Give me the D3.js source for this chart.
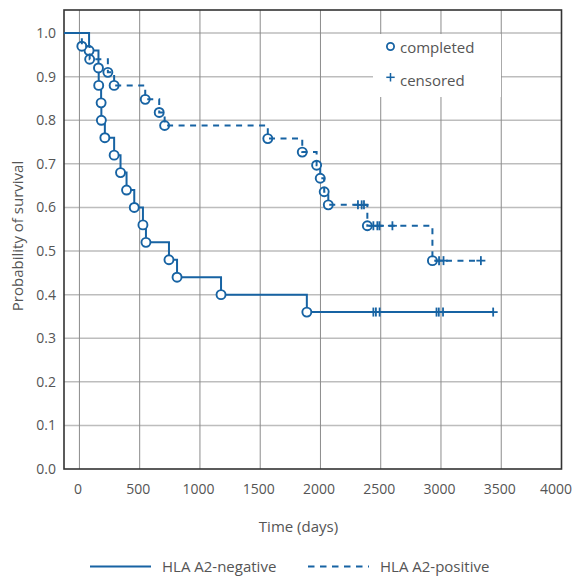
<!DOCTYPE html>
<html>
<head>
<meta charset="utf-8">
<script src="https://cdn.jsdelivr.net/npm/d3@7"></script>
<style>
  body { margin: 0; background: #fff; }
  text { font-family: "Open Sans", "Noto Sans", sans-serif; fill: #555; }
</style>
</head>
<body>
<svg id="chart" width="573" height="578"></svg>
<script>
// HLA A2-negative (solid)
var negTimes = [80, 158, 160, 180, 182, 211, 288, 341, 391, 455, 527, 552, 743, 810, 1175, 1887];
var negSurv = [0.96, 0.92, 0.88, 0.84, 0.80, 0.76, 0.72, 0.68, 0.64, 0.60, 0.56, 0.52, 0.48, 0.44, 0.40, 0.36];
var negCensored = [2439, 2460, 2491, 2963, 2982, 3017, 3433];

// HLA A2-positive (dashed)
var posTimes = [20, 85, 236, 288, 546, 662, 707, 1563, 1849, 1968, 1998, 2031, 2065, 2389, 2929];
var posSurv = [0.97, 0.94, 0.91, 0.88, 0.848, 0.818, 0.788, 0.758, 0.727, 0.697, 0.667, 0.636, 0.606, 0.558, 0.478];
var posCensored = [2311, 2342, 2361, 2439, 2472, 2489, 2597, 2984, 3021, 3331];

var xTicks = [0, 500, 1000, 1500, 2000, 2500, 3000, 3500, 4000];
var yTicks = [0.0, 0.1, 0.2, 0.3, 0.4, 0.5, 0.6, 0.7, 0.8, 0.9, 1.0];

var blue = "#1763a3";
var plotLeft = 64, plotRight = 561.5, plotTop = 10, plotBottom = 469;

var svg = d3.select("#chart");

var x = d3.scaleLinear().domain([-128, 4000]).range([plotLeft, plotRight]);
var y = d3.scaleLinear().domain([0, 1.053]).range([plotBottom, plotTop]);

// grid
svg.append("g").selectAll("line")
  .data(yTicks.filter(function(d) { return d > 0; }))
  .enter().append("line")
    .attr("x1", plotLeft).attr("x2", plotRight)
    .attr("y1", function(d) { return y(d); })
    .attr("y2", function(d) { return y(d); })
    .attr("stroke", "#bdbdbd").attr("stroke-width", 1.5);

svg.append("g").selectAll("line")
  .data(xTicks.filter(function(d) { return d < 4000; }))
  .enter().append("line")
    .attr("x1", function(d) { return x(d); })
    .attr("x2", function(d) { return x(d); })
    .attr("y1", plotTop).attr("y2", plotBottom)
    .attr("stroke", "#8c8c8c").attr("stroke-width", 1);

// legend box (top right) covers the grid
svg.append("rect")
  .attr("x", 373).attr("y", 34)
  .attr("width", 128).attr("height", 63)
  .attr("fill", "#fff");

// frame
svg.append("rect")
  .attr("x", plotLeft).attr("y", plotTop)
  .attr("width", plotRight - plotLeft).attr("height", plotBottom - plotTop)
  .attr("fill", "none").attr("stroke", "#333").attr("stroke-width", 1.6);

// axes
var xAxis = svg.append("g")
  .attr("transform", "translate(0," + plotBottom + ")")
  .call(d3.axisBottom(x).tickValues(xTicks).tickSize(0).tickPadding(15).tickFormat(d3.format("d")));
xAxis.select(".domain").remove();
xAxis.selectAll("text")
  .style("font-size", "14px")
  .attr("fill", "#555")
  .attr("dx", function(d) { return d === 4000 ? -6 : -2; });

var yAxis = svg.append("g")
  .attr("transform", "translate(" + plotLeft + ",0)")
  .call(d3.axisLeft(y).tickValues(yTicks).tickSize(0).tickPadding(8).tickFormat(d3.format(".1f")));
yAxis.select(".domain").remove();
yAxis.selectAll("text").style("font-size", "14px").attr("fill", "#555");

svg.append("text")
  .attr("x", 298.5).attr("y", 532)
  .attr("text-anchor", "middle")
  .style("font-size", "15px")
  .text("Time (days)");

svg.append("text")
  .attr("transform", "translate(23,236) rotate(-90)")
  .attr("text-anchor", "middle")
  .style("font-size", "15px")
  .text("Probability of survival");

// step curve helpers
function stepPoints(times, surv, censored) {
  var pts = [[x.domain()[0], 1]];
  var s = 1;
  times.forEach(function(t, i) {
    pts.push([t, s]);
    s = surv[i];
    pts.push([t, s]);
  });
  pts.push([d3.max(censored), s]);
  return pts;
}

function survAt(times, surv, t) {
  var s = 1;
  times.forEach(function(tt, i) { if (tt <= t) s = surv[i]; });
  return s;
}

var line = d3.line()
  .x(function(d) { return x(d[0]); })
  .y(function(d) { return y(d[1]); });

function drawCircles(times, surv) {
  svg.append("g").selectAll("circle")
    .data(times)
    .enter().append("circle")
      .attr("cx", function(d) { return x(d); })
      .attr("cy", function(d, i) { return y(surv[i]); })
      .attr("r", 4.5)
      .attr("fill", "#fff")
      .attr("stroke", blue)
      .attr("stroke-width", 1.9);
}

function drawCensored(times, surv, censored) {
  var g = svg.append("g");
  censored.forEach(function(t) {
    var cx = x(t), cy = y(survAt(times, surv, t));
    g.append("line").attr("x1", cx).attr("x2", cx).attr("y1", cy - 4.5).attr("y2", cy + 4.5)
      .attr("stroke", blue).attr("stroke-width", 1.8);
    g.append("line").attr("x1", cx - 4.5).attr("x2", cx + 4.5).attr("y1", cy).attr("y2", cy)
      .attr("stroke", blue).attr("stroke-width", 1.8);
  });
}

// negative: line under circles
svg.append("path")
  .datum(stepPoints(negTimes, negSurv, negCensored))
  .attr("d", line)
  .attr("fill", "none")
  .attr("stroke", blue)
  .attr("stroke-width", 2);
drawCircles(negTimes, negSurv);
drawCensored(negTimes, negSurv, negCensored);

// positive: circles under the dashed line
drawCircles(posTimes, posSurv);
svg.append("path")
  .datum(stepPoints(posTimes, posSurv, posCensored))
  .attr("d", line)
  .attr("fill", "none")
  .attr("stroke", blue)
  .attr("stroke-width", 2)
  .attr("stroke-dasharray", "6,5.5");
drawCensored(posTimes, posSurv, posCensored);

// marker legend
svg.append("circle")
  .attr("cx", 390.5).attr("cy", 46.5).attr("r", 3.6)
  .attr("fill", "#fff").attr("stroke", blue).attr("stroke-width", 1.8);
svg.append("text").attr("x", 400).attr("y", 52.5).style("font-size", "15px").text("completed");
svg.append("line").attr("x1", 390.5).attr("x2", 390.5).attr("y1", 73).attr("y2", 81.5)
  .attr("stroke", blue).attr("stroke-width", 1.5);
svg.append("line").attr("x1", 386.3).attr("x2", 394.7).attr("y1", 77.3).attr("y2", 77.3)
  .attr("stroke", blue).attr("stroke-width", 1.5);
svg.append("text").attr("x", 400).attr("y", 86).style("font-size", "15px").text("censored");

// series legend
var legendItems = [
  { name: "HLA A2-negative", x: 90, dash: null },
  { name: "HLA A2-positive", x: 308, dash: "6.5,5.5" }
];
var lg = svg.append("g").selectAll("g")
  .data(legendItems)
  .enter().append("g");
lg.append("line")
  .attr("x1", function(d) { return d.x; })
  .attr("x2", function(d) { return d.x + 61; })
  .attr("y1", 566.5).attr("y2", 566.5)
  .attr("stroke", blue).attr("stroke-width", 2)
  .attr("stroke-dasharray", function(d) { return d.dash; });
lg.append("text")
  .attr("x", function(d) { return d.x + 72; })
  .attr("y", 572)
  .style("font-size", "15px")
  .text(function(d) { return d.name; });
</script>
</body>
</html>
